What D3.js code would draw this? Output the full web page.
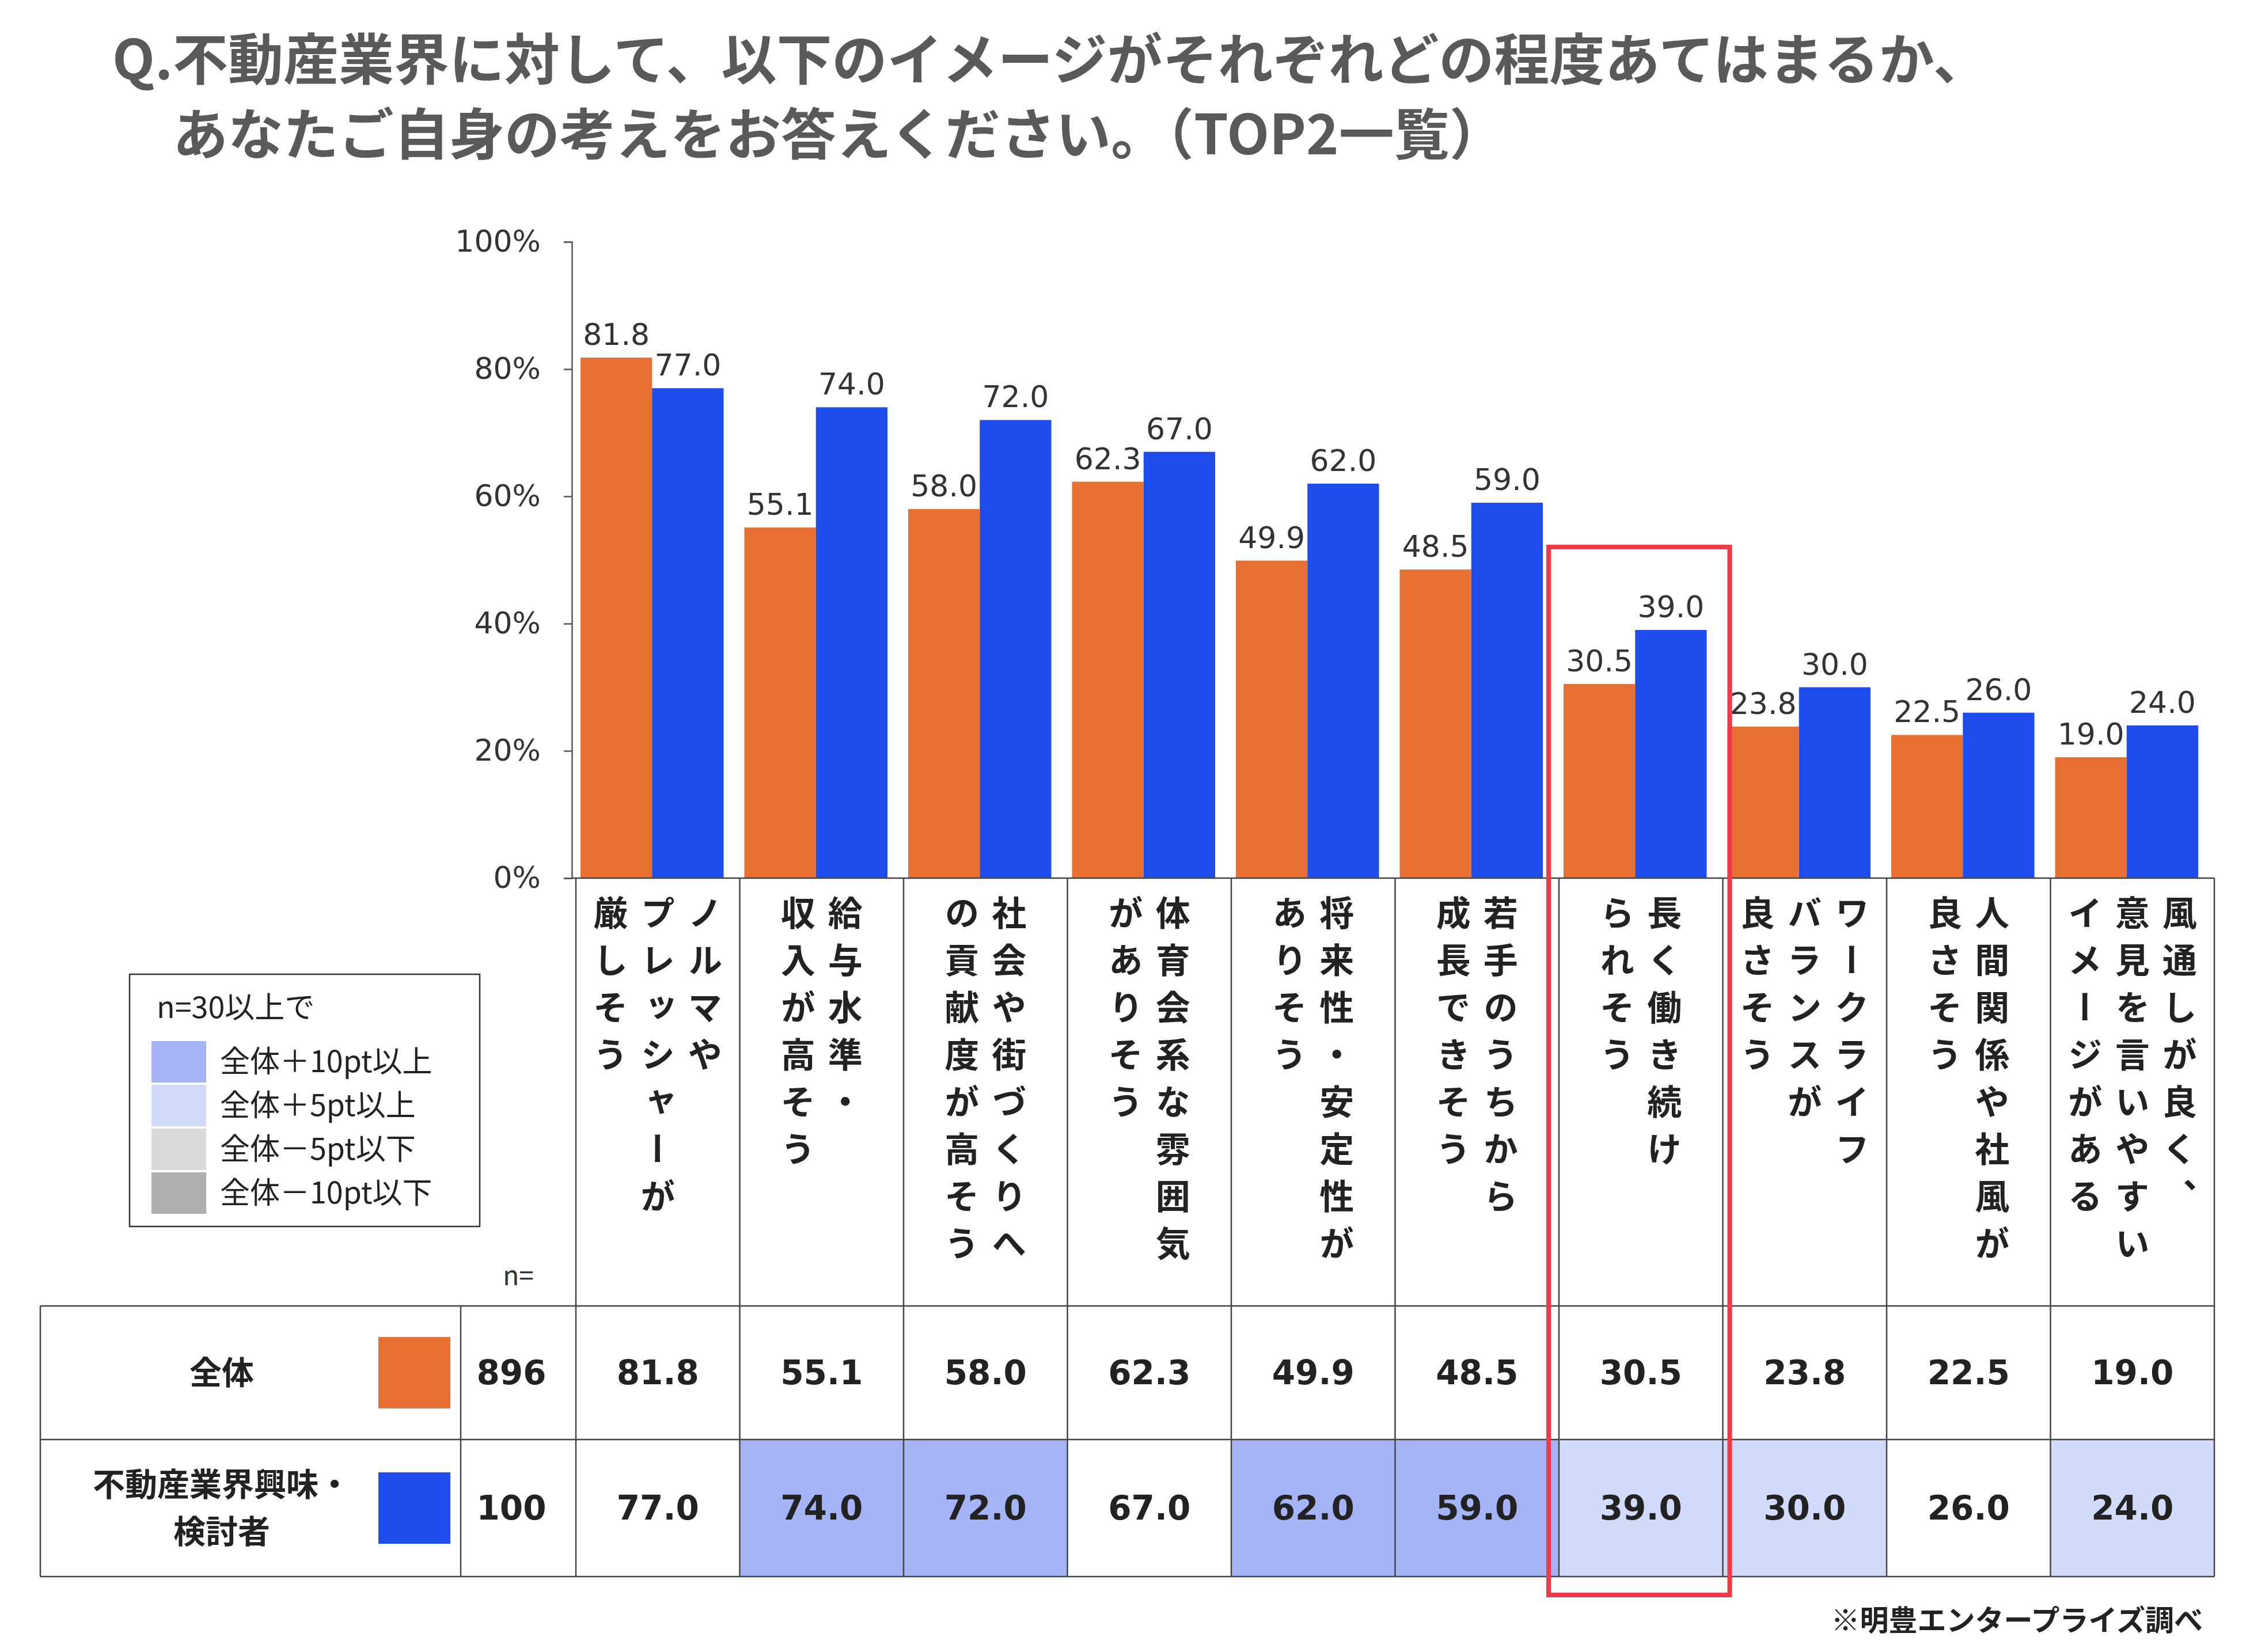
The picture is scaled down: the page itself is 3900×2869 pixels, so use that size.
<!DOCTYPE html>
<html><head><meta charset="utf-8">
<script src="https://cdn.jsdelivr.net/npm/d3@7"></script>
<style>body{margin:0;background:#fff}</style>
</head><body>
<div id="chart"></div>
<script>
// data
var categories = [
  ["ノルマや","プレッシャーが","厳しそう"],
  ["給与水準・","収入が高そう"],
  ["社会や街づくりへ","の貢献度が高そう"],
  ["体育会系な雰囲気","がありそう"],
  ["将来性・安定性が","ありそう"],
  ["若手のうちから","成長できそう"],
  ["長く働き続け","られそう"],
  ["ワークライフ","バランスが","良さそう"],
  ["人間関係や社風が","良さそう"],
  ["風通しが良く、","意見を言いやすい","イメージがある"]
];
var totalValues = [81.8, 55.1, 58.0, 62.3, 49.9, 48.5, 30.5, 23.8, 22.5, 19.0];
var interestValues = [77.0, 74.0, 72.0, 67.0, 62.0, 59.0, 39.0, 30.0, 26.0, 24.0];
var seriesNames = ["全体", "不動産業界興味・\n検討者"];
var seriesN = [896, 100];
var yTicks = [0, 20, 40, 60, 80, 100];
var legendItems = ["全体＋10pt以上", "全体＋5pt以上", "全体－5pt以下", "全体－10pt以下"];

var W = 3900, H = 2869;
var orange = "#E87032", blue = "#1F4DEB";
var legendColors = ["#A4B4F7", "#D3DBFB", "#D9D9D9", "#AFAFAF"];
var jp = "'Noto Sans CJK JP', 'Noto Sans', sans-serif";
var num = "'DejaVu Sans', Verdana, sans-serif";

var svg = d3.select("#chart").append("svg").attr("width", W).attr("height", H);

// title
svg.append("text").attr("x", 195).attr("y", 138).attr("font-family", jp).attr("font-weight", 700)
  .attr("font-size", 96).attr("fill", "#595959").text("Q.不動産業界に対して、以下のイメージがそれぞれどの程度あてはまるか、");
svg.append("text").attr("x", 300).attr("y", 268).attr("font-family", jp).attr("font-weight", 700)
  .attr("font-size", 96).attr("fill", "#595959").text("あなたご自身の考えをお答えください。（TOP2一覧）");

var plotLeft = 1000, plotRight = 3845, plotTop = 420, base = 1525;
var x = d3.scaleBand().domain(d3.range(categories.length)).range([plotLeft, plotRight]);
var bw = x.bandwidth();
var inner = d3.scaleBand().domain([0, 1]).range([8, bw - 28]);
var y = d3.scaleLinear().domain([0, 100]).range([base, plotTop]);

// axis
var yAxis = svg.append("g").attr("transform", "translate(993,0)")
  .call(d3.axisLeft(y).tickValues(yTicks).tickFormat(d => d + "%").tickSize(14).tickPadding(40));
yAxis.select(".domain").attr("stroke", "#555").attr("stroke-width", 2.5);
yAxis.selectAll(".tick line").attr("stroke", "#555").attr("stroke-width", 2.5);
yAxis.selectAll("text").attr("font-family", num).attr("font-size", 52).attr("fill", "#333");

// bars
[totalValues, interestValues].forEach(function (vals, s) {
  var g = svg.append("g");
  g.selectAll("rect").data(vals).enter().append("rect")
    .attr("x", (d, i) => x(i) + inner(s)).attr("width", inner.bandwidth())
    .attr("y", d => y(d)).attr("height", d => base - y(d))
    .attr("fill", s === 0 ? orange : blue);
  g.selectAll("text").data(vals).enter().append("text")
    .attr("x", (d, i) => x(i) + inner(s) + inner.bandwidth() / 2)
    .attr("y", d => y(d) - 22).attr("text-anchor", "middle")
    .attr("font-family", num).attr("font-size", 52).attr("fill", "#333")
    .text(d => d.toFixed(1));
});

// table geometry
var tTop = 2268, tMid = 2500, tBot = 2738;
var colA = 70, colB = 800;

// highlight cells in second row
interestValues.forEach(function (v, i) {
  var diff = v - totalValues[i];
  var c = diff >= 10 ? legendColors[0] : diff >= 5 ? legendColors[1] : diff <= -10 ? legendColors[3] : diff <= -5 ? legendColors[2] : null;
  if (c) svg.append("rect").attr("x", x(i)).attr("y", tMid).attr("width", bw).attr("height", tBot - tMid).attr("fill", c);
});

var lines = svg.append("g").attr("stroke", "#444").attr("stroke-width", 2.5);
lines.append("line").attr("x1", 993).attr("x2", plotRight).attr("y1", base).attr("y2", base);
[tTop, tMid, tBot].forEach(yy => lines.append("line").attr("x1", colA).attr("x2", plotRight).attr("y1", yy).attr("y2", yy));
[colA, colB].forEach(xx => lines.append("line").attr("x1", xx).attr("x2", xx).attr("y1", tTop).attr("y2", tBot));
d3.range(categories.length + 1).forEach(function (i) {
  var xx = i < categories.length ? x(i) : plotRight;
  lines.append("line").attr("x1", xx).attr("x2", xx).attr("y1", base).attr("y2", tBot);
});

// vertical category labels
categories.forEach(function (cat, i) {
  var cx = x(i) + bw / 2;
  var n = cat.length;
  cat.forEach(function (line, j) {
    var lx = cx + ((n - 1) / 2 - j) * 82;
    svg.append("text").attr("x", lx).attr("y", 1555)
      .attr("writing-mode", "vertical-rl").style("text-orientation", "upright")
      .style("letter-spacing", "22px")
      .attr("font-family", jp).attr("font-weight", 700).attr("font-size", 60).attr("fill", "#222")
      .text(line);
  });
});

svg.append("text").attr("x", 900).attr("y", 2232).attr("text-anchor", "middle").attr("font-family", jp)
  .attr("font-size", 46).attr("fill", "#333").text("n=");

// table rows
[totalValues, interestValues].forEach(function (vals, s) {
  var r0 = s === 0 ? tTop : tMid, r1 = s === 0 ? tMid : tBot, cy = (r0 + r1) / 2;
  var nameLines = seriesNames[s].split("\n");
  nameLines.forEach(function (t, k) {
    svg.append("text").attr("x", 385).attr("y", cy + (k - (nameLines.length - 1) / 2) * 82)
      .attr("dy", "0.35em").attr("text-anchor", "middle").attr("font-family", jp).attr("font-weight", 700)
      .attr("font-size", 56).attr("fill", "#222").text(t);
  });
  svg.append("rect").attr("x", 657).attr("y", cy - 62).attr("width", 125).attr("height", 124)
    .attr("fill", s === 0 ? orange : blue);
  svg.append("text").attr("x", 888).attr("y", cy).attr("dy", "0.35em").attr("text-anchor", "middle")
    .attr("font-family", num).attr("font-weight", 700).attr("font-size", 58).attr("fill", "#222").text(seriesN[s]);
  svg.append("g").selectAll("text").data(vals).enter().append("text")
    .attr("x", (d, i) => x(i) + bw / 2).attr("y", cy).attr("dy", "0.35em").attr("text-anchor", "middle")
    .attr("font-family", num).attr("font-weight", 700).attr("font-size", 58).attr("fill", "#222")
    .text(d => d.toFixed(1));
});

// legend
svg.append("rect").attr("x", 225).attr("y", 1692).attr("width", 608).attr("height", 438)
  .attr("fill", "none").attr("stroke", "#333").attr("stroke-width", 2.5);
svg.append("text").attr("x", 272).attr("y", 1768).attr("font-family", jp).attr("font-size", 52)
  .attr("fill", "#222").text("n=30以上で");
legendItems.forEach(function (t, k) {
  var yy = 1808 + k * 76;
  svg.append("rect").attr("x", 263).attr("y", yy).attr("width", 95).attr("height", 72).attr("fill", legendColors[k]);
  svg.append("text").attr("x", 382).attr("y", yy + 36).attr("dy", "0.35em").attr("font-family", jp)
    .attr("font-size", 52).attr("fill", "#222").text(t);
});

// highlight frame
svg.append("rect").attr("x", x(6) - 18).attr("y", 950).attr("width", bw + 30).attr("height", 1820)
  .attr("fill", "none").attr("stroke", "#EE3B45").attr("stroke-width", 8);

svg.append("text").attr("x", 3825).attr("y", 2832).attr("text-anchor", "end").attr("font-family", jp)
  .attr("font-weight", 700).attr("font-size", 50).attr("fill", "#222").text("※明豊エンタープライズ調べ");
</script>
</body></html>
